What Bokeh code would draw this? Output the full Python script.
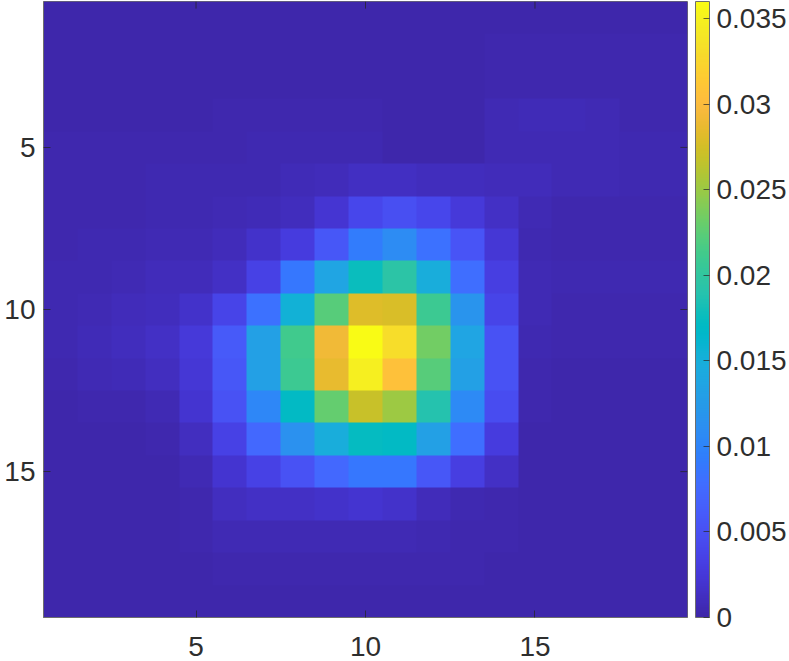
import numpy as np
from bokeh.plotting import figure
from bokeh.models import Range1d, LinearColorMapper, ColorBar, FixedTicker
from bokeh.embed import file_html
from bokeh.resources import INLINE

# cell values, row 1 first (top of the picture); multiply by UNIT for the colour-bar scale
UNIT = 0.992e-3
row01 = [.23]*19
row02 = [.23]*13 + [.35,.35,.35,.35,.29,.29]
row03 = [.23]*13 + [.40,.40,.40,.40,.40,.35]
row04 = [.23,.23,.23,.23,.23,.29,.29,.29,.29,.29,.17,.17,.17,.58,.81,.81,.58,.40,.40]
row05 = [.29,.29,.29,.35,.35,.35,.52,.52,.52,.52,.23,.23,.23,.69,.69,.69,.69,.52,.52]
row06 = [.35,.35,.35,.46,.46,.52,.52,.81,.98,1.33,1.33,1.04,1.04,.92,.92,.69,.69,.52,.52]
row07 = [.40,.40,.40,.46,.46,.58,.75,1.00,2.13,4.03,4.90,4.03,2.59,1.44,.58,.35,.35,.40,.40]
row08 = [.40,.46,.46,.58,.69,.90,1.84,2.88,5.76,9.22,10.95,8.35,5.47,2.30,.46,.40,.40,.40,.40]
row09 = [.46,.52,.63,.86,.98,1.44,3.46,8.93,13.83,17.86,19.59,14.98,8.07,3.17,.58,.46,.46,.46,.46]
row10 = [.52,.63,.92,1.04,1.73,3.75,8.35,15.56,22.47,28.23,27.95,21.03,11.81,3.75,.58,.40,.40,.40,.40]
row11 = [.52,.81,1.04,1.50,2.59,6.05,13.25,21.32,29.39,36.30,33.42,23.62,13.83,5.19,.52,.29,.29,.29,.29]
row12 = [.29,.63,.81,1.27,2.30,5.76,13.25,21.03,28.81,35.15,30.83,22.47,13.25,5.19,.40,.23,.23,.23,.23]
row13 = [.23,.35,.40,.58,2.02,5.19,10.37,17.29,23.05,27.08,25.35,19.01,10.66,4.61,.29,.23,.23,.23,.23]
row14 = [.17,.17,.23,.29,1.27,3.46,7.49,11.52,14.98,17.57,17.29,13.25,8.07,2.88,.23,.23,.23,.23,.23]
row15 = [.17,.17,.17,.17,.69,2.02,3.46,5.19,7.49,8.93,8.93,5.76,3.17,1.44,.23,.23,.23,.23,.23]
row16 = [.17,.17,.17,.17,.40,1.15,1.44,1.44,1.73,2.02,1.73,.86,.46,.29,.23,.23,.23,.23,.23]
row17 = [.17,.17,.17,.17,.29,.58,.58,.58,.58,.58,.58,.46,.40,.35,.23,.23,.23,.23,.23]
row18 = [.17,.17,.17,.17,.23,.29,.29,.29,.29,.29,.29,.29,.29,.23,.23,.23,.23,.23,.23]
row19 = [.17]*19
rows = [row01,row02,row03,row04,row05,row06,row07,row08,row09,row10,
        row11,row12,row13,row14,row15,row16,row17,row18,row19]

cell_ticks = [5, 10, 15]
bar_ticks = [0, 0.005, 0.01, 0.015, 0.02, 0.025, 0.03, 0.035]
bar_labels = ["0", "0.005", "0.01", "0.015", "0.02", "0.025", "0.03", "0.035"]
val_low, val_high = 0.0, 0.0360

parula = np.array([
 [.2422,.1504,.6603],[.2504,.1650,.7076],[.2578,.1818,.7511],[.2647,.1978,.7952],
 [.2706,.2147,.8364],[.2751,.2342,.8710],[.2783,.2559,.8991],[.2803,.2782,.9221],
 [.2813,.3006,.9414],[.2810,.3228,.9579],[.2795,.3447,.9717],[.2760,.3667,.9829],
 [.2699,.3892,.9906],[.2602,.4123,.9952],[.2440,.4358,.9988],[.2206,.4603,.9973],
 [.1963,.4847,.9892],[.1834,.5074,.9798],[.1786,.5289,.9682],[.1764,.5499,.9520],
 [.1687,.5703,.9359],[.1540,.5902,.9218],[.1460,.6091,.9079],[.1380,.6276,.8973],
 [.1248,.6459,.8883],[.1113,.6635,.8763],[.0952,.6798,.8598],[.0689,.6948,.8394],
 [.0297,.7082,.8163],[.0036,.7203,.7917],[.0067,.7312,.7660],[.0433,.7411,.7394],
 [.0964,.7500,.7120],[.1408,.7584,.6842],[.1717,.7670,.6554],[.1938,.7758,.6251],
 [.2161,.7843,.5923],[.2470,.7918,.5567],[.2906,.7973,.5188],[.3406,.8008,.4789],
 [.3909,.8029,.4354],[.4456,.8024,.3909],[.5044,.7993,.3480],[.5616,.7942,.3045],
 [.6174,.7876,.2612],[.6720,.7793,.2227],[.7242,.7698,.1910],[.7738,.7598,.1646],
 [.8203,.7498,.1535],[.8634,.7406,.1596],[.9035,.7330,.1774],[.9393,.7288,.2100],
 [.9728,.7298,.2394],[.9956,.7434,.2371],[.9970,.7659,.2199],[.9952,.7893,.2028],
 [.9892,.8136,.1885],[.9786,.8386,.1766],[.9676,.8639,.1643],[.9610,.8890,.1537],
 [.9597,.9135,.1423],[.9628,.9373,.1265],[.9691,.9606,.1064],[.9769,.9839,.0805]])
pos = np.linspace(0, 1, 256)
src = np.linspace(0, 1, len(parula))
palette = ["#%02x%02x%02x" % tuple(int(round(np.interp(t, src, parula[:, c]) * 255)) for c in range(3)) for t in pos]

mapper = LinearColorMapper(palette=palette, low=val_low, high=val_high)
arr = np.array(rows, dtype=float) * UNIT

FONT = "Liberation Sans"
TXT = "#2e2e2e"
LINE = "#6e6e6e"

p = figure(frame_width=644, frame_height=616, output_backend="svg", toolbar_location=None,
           x_range=Range1d(0.5, 19.5), y_range=Range1d(19.5, 0.5),
           min_border_left=43, min_border_right=0, min_border_top=1, min_border_bottom=44,
           outline_line_color=LINE, outline_line_width=1, margin=(0, 0, 0, 0))
p.grid.visible = False
p.image(image=[arr], x=0.5, y=0.5, dw=19, dh=19, color_mapper=mapper)

def style(ax):
    ax.ticker = FixedTicker(ticks=cell_ticks)
    ax.major_tick_in = 7
    ax.major_tick_out = 0
    ax.minor_tick_line_color = None
    ax.major_tick_line_color = "#262626"
    ax.major_tick_line_alpha = 0.75
    ax.axis_line_color = LINE
    ax.axis_line_width = 1
    ax.major_label_text_font = FONT
    ax.major_label_text_font_size = "28px"
    ax.major_label_text_color = TXT
    ax.major_label_standoff = 19

style(p.xaxis[0])
style(p.yaxis[0])
p.yaxis[0].major_label_orientation = "horizontal"
p.yaxis[0].major_label_standoff = 8

# the tick marks that MATLAB repeats on the top and right sides of the box
n = len(cell_ticks)
p.segment(x0=cell_ticks, y0=[0.5]*n, x1=cell_ticks, y1=[0.72]*n, line_color="#262626", line_alpha=0.75)
p.segment(x0=[19.5]*n, y0=cell_ticks, x1=[19.29]*n, y1=cell_ticks, line_color="#262626", line_alpha=0.75)

cb = ColorBar(color_mapper=mapper, width=14, height=616, padding=0, margin=7,
              location=(8, 0), ticker=FixedTicker(ticks=bar_ticks),
              major_label_overrides=dict(zip(bar_ticks, bar_labels)),
              major_label_text_font=FONT, major_label_text_font_size="28px",
              major_label_text_color=TXT, label_standoff=7,
              major_tick_in=6, major_tick_out=0, major_tick_line_color="#262626",
              major_tick_line_alpha=0.7, minor_tick_line_color=None,
              bar_line_color=LINE, bar_line_width=1, border_line_color=None,
              background_fill_color=None)
p.add_layout(cb, "right")

open("out.html", "w").write(file_html(p, INLINE))
